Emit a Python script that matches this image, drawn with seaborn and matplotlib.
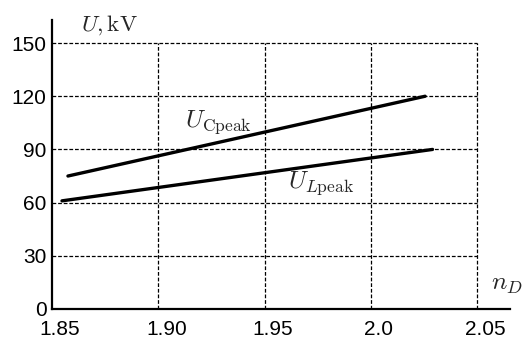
import matplotlib
matplotlib.use("Agg")
import matplotlib.pyplot as plt
import matplotlib.transforms as mtrans
import seaborn as sns
import pandas as pd

# data
n_vals_C = [1.8575, 2.0255]
U_C = [75, 120]
n_vals_L = [1.8547, 2.029]
U_L = [61, 90]
x_ticks = [1.85, 1.90, 1.95, 2.0, 2.05]
x_tick_labels = ["1.85", "1.90", "1.95", "2.0", "2.05"]
y_ticks = [0, 30, 60, 90, 120, 150]

sns.set_style("white")
plt.rcParams['font.family'] = ['Liberation Sans', 'DejaVu Sans']
plt.rcParams['mathtext.fontset'] = 'cm'

df = pd.concat([
    pd.DataFrame({"n": n_vals_C, "U": U_C, "s": "C"}),
    pd.DataFrame({"n": n_vals_L, "U": U_L, "s": "L"}),
])

fig = plt.figure(figsize=(5.25, 3.42), dpi=100)
ax = fig.add_axes([52/525, 1-309/342, (510-52)/525, (309-20)/342])

# grid
ax.vlines(x_ticks[1:], 0, y_ticks[-1], colors="black", linewidth=0.9,
          linestyles=(0, (3, 1.5)), zorder=1)
ax.hlines(y_ticks[1:], x_ticks[0], x_ticks[-1], colors="black", linewidth=0.9,
          linestyles=(0, (3, 1.5)), zorder=1)

sns.lineplot(data=df, x="n", y="U", units="s", estimator=None, color="black",
             linewidth=2.4, ax=ax, zorder=3, legend=False)

ax.set_xlim(1.85, 1.85 + (510-52)/2126*1.0)
ax.set_ylim(0, (309-20)/1.773)
ax.set_xticks(x_ticks)
ax.set_xticklabels(x_tick_labels)
ax.set_yticks(y_ticks)
ax.tick_params(axis="both", length=0, labelsize=15, colors="black")
ax.tick_params(axis="x", pad=8)
ax.tick_params(axis="y", pad=4)
ax.set_xlabel("")
ax.set_ylabel("")
shift = mtrans.ScaledTranslation(8/100, 0, fig.dpi_scale_trans)
for lab in ax.get_xticklabels():
    lab.set_transform(lab.get_transform() + shift)
for s in ["top", "right"]:
    ax.spines[s].set_visible(False)
for s in ["left", "bottom"]:
    ax.spines[s].set_color("black")
    ax.spines[s].set_linewidth(1.6)

ax.text(1.9126, 102.6, r"$U_{\mathrm{Cpeak}}$", fontsize=18, va="baseline", ha="left")
ax.text(1.961, 68.2, r"$U_{L\mathrm{peak}}$", fontsize=18, va="baseline", ha="left")
fig.text(81/525, 1-31/342, r"$U,\mathrm{kV}$", fontsize=16.5, va="baseline", ha="left")
fig.text(491/525, 1-290/342, r"$n_D$", fontsize=18.5, va="baseline", ha="left")

fig.savefig("out.png", dpi=100)
